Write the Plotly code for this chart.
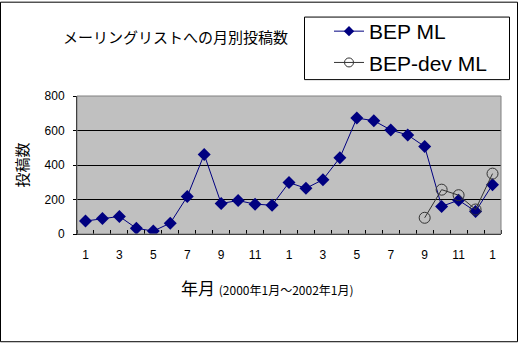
import plotly.graph_objects as go

# Monthly posts, Jan 2000 - Jan 2002
months = list(range(25))
month_labels = ["1", "2", "3", "4", "5", "6", "7", "8", "9", "10", "11", "12",
                "1", "2", "3", "4", "5", "6", "7", "8", "9", "10", "11", "12", "1"]
bep_ml = [75, 90, 102, 33, 17, 63, 217, 461, 177, 194, 173, 167,
          298, 265, 315, 442, 672, 657, 603, 574, 507, 160, 196, 131, 286]
bep_dev_months = [20, 21, 22, 23, 24]
bep_dev_ml = [94, 257, 225, 142, 350]

W, H = 518, 343
ML, MR, MT, MB = 77, 17, 95, 109
pw, ph = W - ML - MR, H - MT - MB

def px_x(x):
    return (x - ML) / pw

def px_y(y):
    return (H - MB - y) / ph

jp = "Noto Sans CJK JP"
latin = "Liberation Sans"
navy = "#000080"
dark = "#333333"

fig = go.Figure()
fig.add_trace(go.Scatter(
    x=months, y=bep_ml, name="BEP ML", mode="lines+markers", showlegend=False,
    line=dict(color=navy, width=1),
    marker=dict(symbol="diamond", size=10, color=navy),
))
fig.add_trace(go.Scatter(
    x=bep_dev_months, y=bep_dev_ml, name="BEP-dev ML", mode="lines+markers",
    showlegend=False,
    line=dict(color=dark, width=1),
    marker=dict(symbol="circle-open", size=11, color=dark, line=dict(width=1)),
))
# legend entries with smaller symbols
fig.add_trace(go.Scatter(
    x=[None], y=[None], name="BEP ML", mode="lines+markers", legendgroup="a",
    line=dict(color=navy, width=1),
    marker=dict(symbol="diamond", size=8, color=navy),
))
fig.add_trace(go.Scatter(
    x=[None], y=[None], name="BEP-dev ML", mode="lines+markers", legendgroup="b",
    line=dict(color=dark, width=1),
    marker=dict(symbol="circle-open", size=9, color=dark, line=dict(width=1)),
))

fig.update_layout(
    width=W, height=H,
    margin=dict(l=ML, r=MR, t=MT, b=MB),
    paper_bgcolor="white",
    plot_bgcolor="#C0C0C0",
    font=dict(family=latin, size=12, color="black"),
    showlegend=True,
    legend=dict(
        x=px_x(329), y=px_y(11), xanchor="left", yanchor="top",
        bgcolor="rgba(0,0,0,0)", borderwidth=0,
        font=dict(family=latin, size=21, color="black"),
        tracegroupgap=1,
    ),
    xaxis=dict(
        range=[-0.5, 24.5],
        tickmode="array",
        tickvals=months[::2],
        ticktext=month_labels[::2],
        ticks="", showgrid=False, zeroline=False,
        showline=True, linecolor="black", linewidth=1, mirror=False,
        ticklabelstandoff=10,
        tickfont=dict(family=latin, size=12),
        minor=dict(ticks="inside", tick0=-0.5, dtick=1, ticklen=4,
                   tickcolor="black", showgrid=False),
    ),
    yaxis=dict(
        range=[0, 800], tickvals=[0, 200, 400, 600, 800],
        showgrid=True, gridcolor="black", gridwidth=1,
        zeroline=False, showline=True, linecolor="black", linewidth=1,
        ticks="outside", ticklen=3, tickcolor="black",
        ticklabelstandoff=6,
        tickfont=dict(family=latin, size=12),
    ),
    shapes=[
        # plot area frame
        dict(type="rect", xref="paper", yref="paper", x0=0, y0=0, x1=1, y1=1,
             line=dict(color="#808080", width=1), layer="above"),
        # outer chart frame
        dict(type="rect", xref="paper", yref="paper",
             x0=px_x(0.5), y0=px_y(H - 0.5), x1=px_x(W - 0.5), y1=px_y(0.5),
             line=dict(color="black", width=1)),
        # legend box
        dict(type="rect", xref="paper", yref="paper",
             x0=px_x(304.5), y0=px_y(78.5), x1=px_x(509.5), y1=px_y(15.5),
             line=dict(color="black", width=1), fillcolor="white", layer="below"),
    ],
    annotations=[
        dict(text="メーリングリストへの月別投稿数", xref="paper", yref="paper",
             x=px_x(175), y=px_y(35), xanchor="center", yanchor="middle",
             showarrow=False, font=dict(family=jp, size=15, color="black")),
        dict(text="投稿数", xref="paper", yref="paper",
             x=px_x(21), y=px_y(165), xanchor="center", yanchor="middle",
             showarrow=False, textangle=-90,
             font=dict(family=jp, size=15, color="black")),
        dict(text="年月 <span style='font-size:12px'>(2000年1月～2002年1月)</span>",
             xref="paper", yref="paper",
             x=px_x(267), y=px_y(288), xanchor="center", yanchor="middle",
             showarrow=False, font=dict(family=jp, size=17, color="black")),
    ],
)

fig.write_html("out.html")
